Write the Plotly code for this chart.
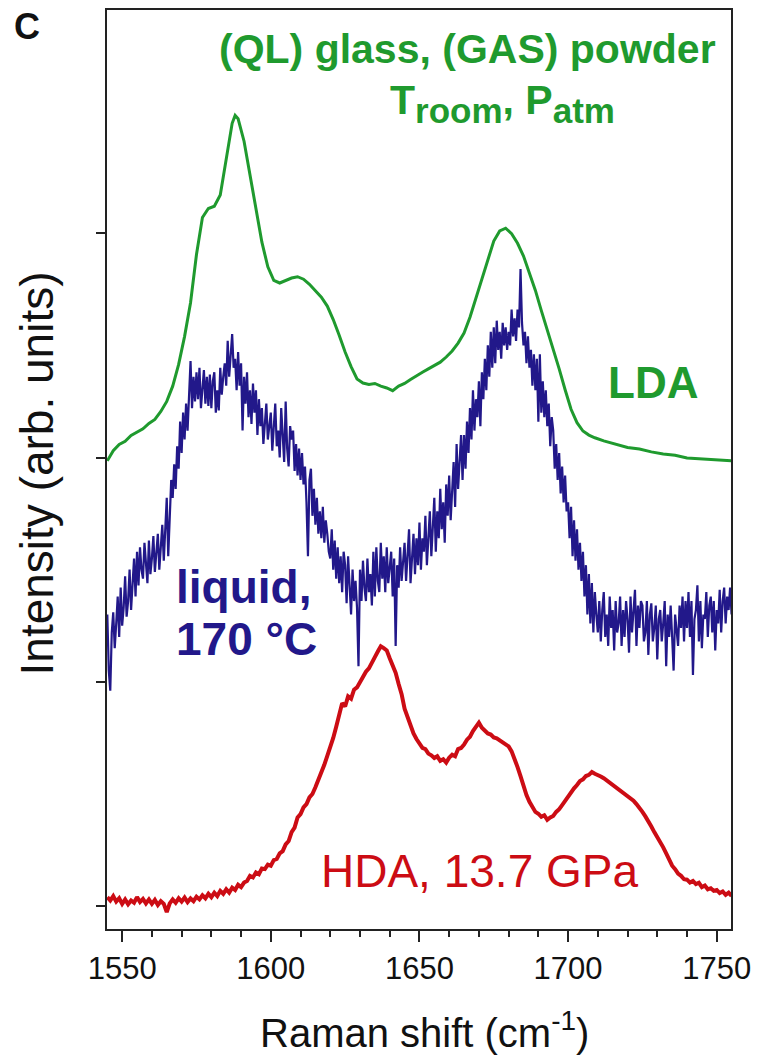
import numpy as np
import plotly.graph_objects as go

# ---------------- data ----------------
# LDA, room temperature / ambient pressure (offset trace, top)
lda_shift = [1545, 1547, 1549, 1551, 1553, 1555, 1557, 1559, 1561, 1563,
             1565, 1567, 1569, 1571, 1573, 1575, 1577, 1579, 1581, 1583,
             1585, 1587, 1588, 1589, 1591, 1593, 1595, 1597, 1599, 1601,
             1603, 1605, 1607, 1609, 1611, 1613, 1615, 1617, 1619, 1621,
             1623, 1625, 1627, 1629, 1631, 1633, 1635, 1637, 1639, 1641,
             1643, 1645, 1647, 1649, 1651, 1653, 1655, 1657, 1659, 1661,
             1663, 1665, 1667, 1669, 1671, 1673, 1675, 1677, 1679, 1681,
             1683, 1685, 1687, 1689, 1691, 1693, 1695, 1697, 1699, 1701,
             1703, 1705, 1707, 1709, 1712, 1716, 1720, 1724, 1728, 1732,
             1736, 1740, 1744, 1748, 1752, 1755]
lda_int = [1.985, 2.030, 2.058, 2.072, 2.098, 2.112, 2.128, 2.152, 2.170, 2.205,
           2.250, 2.318, 2.415, 2.540, 2.690, 2.905, 3.070, 3.110, 3.120, 3.170,
           3.330, 3.490, 3.525, 3.510, 3.410, 3.255, 3.100, 2.960, 2.850, 2.790,
           2.778, 2.790, 2.800, 2.806, 2.795, 2.772, 2.745, 2.715, 2.675, 2.615,
           2.545, 2.470, 2.405, 2.350, 2.332, 2.326, 2.330, 2.318, 2.310, 2.298,
           2.318, 2.330, 2.348, 2.365, 2.380, 2.395, 2.410, 2.425, 2.448, 2.475,
           2.510, 2.555, 2.625, 2.710, 2.800, 2.890, 2.965, 3.010, 3.022, 2.998,
           2.955, 2.898, 2.825, 2.745, 2.655, 2.570, 2.482, 2.395, 2.302, 2.215,
           2.155, 2.118, 2.100, 2.088, 2.074, 2.060, 2.045, 2.038, 2.025, 2.016,
           2.010, 1.998, 1.994, 1.990, 1.986, 1.985]

# liquid at 170 °C (offset trace, middle), one reading per 0.5 cm-1 from 1545
liq_start, liq_step = 1545, 0.5
liq_int = [1.30, 1.05, 0.96, 1.22, 1.31, 1.15, 1.26, 1.38, 1.20, 1.42,
           1.25, 1.33, 1.47, 1.29, 1.36, 1.50, 1.32, 1.44, 1.55, 1.38,
           1.58, 1.43, 1.60, 1.50, 1.46, 1.62, 1.52, 1.44, 1.63, 1.48,
           1.55, 1.65, 1.49, 1.58, 1.66, 1.50, 1.62, 1.70, 1.54, 1.66,
           1.82, 1.56, 1.74, 1.90, 1.82, 1.97, 1.86, 2.05, 1.95, 2.16,
           2.02, 2.20, 2.08, 2.24, 2.12, 2.30, 2.43, 2.22, 2.36, 2.25,
           2.38, 2.26, 2.40, 2.22, 2.33, 2.39, 2.24, 2.36, 2.23, 2.37,
           2.22, 2.34, 2.38, 2.20, 2.30, 2.21, 2.40, 2.28, 2.36, 2.42,
           2.32, 2.52, 2.36, 2.48, 2.55, 2.40, 2.44, 2.30, 2.47, 2.32,
           2.42, 2.12, 2.36, 2.24, 2.38, 2.18, 2.30, 2.15, 2.33, 2.20,
           2.30, 2.10, 2.26, 2.14, 2.22, 2.06, 2.18, 2.24, 2.08, 2.16,
           2.20, 2.03, 2.15, 2.24, 2.05, 2.12, 2.00, 2.22, 2.10, 1.98,
           2.25, 2.04, 1.96, 2.14, 2.08, 2.12, 1.94, 2.06, 1.92, 2.04,
           1.90, 2.02, 1.88, 1.96, 1.80, 1.56, 1.90, 1.95, 1.74, 1.86,
           1.70, 1.82, 1.66, 1.76, 1.64, 1.78, 1.62, 1.72, 1.66, 1.58,
           1.55, 1.68, 1.50, 1.63, 1.46, 1.60, 1.44, 1.56, 1.40, 1.58,
           1.52, 1.35, 1.56, 1.42, 1.30, 1.50, 1.36, 1.45, 1.33, 1.07,
           1.50, 1.36, 1.54, 1.42, 1.36, 1.55, 1.40, 1.48, 1.34, 1.58,
           1.38, 1.60, 1.45, 1.40, 1.62, 1.46, 1.56, 1.40, 1.60, 1.44,
           1.50, 1.58, 1.38, 1.55, 1.16, 1.52, 1.42, 1.60, 1.45, 1.56,
           1.62, 1.45, 1.55, 1.68, 1.44, 1.58, 1.66, 1.48, 1.64, 1.52,
           1.71, 1.50, 1.64, 1.58, 1.74, 1.52, 1.66, 1.76, 1.56, 1.70,
           1.82, 1.58, 1.76, 1.64, 1.86, 1.68, 1.80, 1.62, 1.88, 1.74,
           1.92, 1.72, 1.86, 1.98, 1.78, 2.06, 1.86, 1.98, 2.10, 1.90,
           2.10, 1.95, 2.16, 2.02, 2.22, 2.08, 2.30, 2.12, 2.26, 2.18,
           2.34, 2.14, 2.38, 2.26, 2.44, 2.30, 2.50, 2.36, 2.56, 2.40,
           2.58, 2.42, 2.61, 2.48, 2.56, 2.44, 2.60, 2.50, 2.58, 2.48,
           2.56, 2.50, 2.66, 2.54, 2.62, 2.52, 2.66, 2.58, 2.84, 2.60,
           2.50, 2.56, 2.42, 2.54, 2.40, 2.48, 2.32, 2.46, 2.30, 2.44,
           2.16, 2.46, 2.20, 2.34, 2.18, 2.30, 2.14, 2.24, 2.05, 2.18,
           2.12, 1.95, 2.06, 1.90, 2.02, 1.84, 1.96, 1.80, 1.92, 1.76,
           1.80, 1.64, 1.78, 1.56, 1.72, 1.54, 1.68, 1.50, 1.62, 1.45,
           1.58, 1.38, 1.52, 1.30, 1.48, 1.26, 1.44, 1.22, 1.40, 1.30,
           1.22, 1.36, 1.18, 1.32, 1.40, 1.20, 1.30, 1.16, 1.38, 1.24,
           1.32, 1.14, 1.36, 1.22, 1.26, 1.38, 1.16, 1.32, 1.20, 1.36,
           1.28, 1.13, 1.38, 1.22, 1.30, 1.41, 1.16, 1.34, 1.24, 1.36,
           1.34, 1.18, 1.22, 1.36, 1.12, 1.30, 1.35, 1.18, 1.24, 1.34,
           1.10, 1.28, 1.32, 1.18, 1.26, 1.36, 1.07, 1.30, 1.20, 1.34,
           1.20, 1.05, 1.30, 1.22, 1.16, 1.34, 1.24, 1.38, 1.18, 1.36,
           1.24, 1.40, 1.20, 1.36, 1.03, 1.28, 1.32, 1.43, 1.18, 1.36,
           1.15, 1.30, 1.28, 1.40, 1.20, 1.34, 1.38, 1.22, 1.36, 1.14,
           1.32, 1.26, 1.41, 1.22, 1.36, 1.42, 1.26, 1.38, 1.32, 1.42,
           1.30]
liq_shift = liq_start + liq_step * np.arange(len(liq_int))

# HDA at 13.7 GPa (bottom trace), one reading per cm-1 from 1545
hda_start = 1545
hda_int = [0.040, 0.025, 0.045, 0.020, 0.035, 0.010, 0.030, 0.008, 0.025, 0.015,
           0.040, 0.018, 0.032, 0.012, 0.030, 0.010, 0.028, 0.005, 0.022, 0.010,
           -0.027, 0.012, 0.030, 0.015, 0.035, 0.020, 0.038, 0.018, 0.034, 0.022,
           0.042, 0.030, 0.048, 0.035, 0.055, 0.040, 0.060, 0.045, 0.068, 0.055,
           0.075, 0.060, 0.082, 0.072, 0.095, 0.085, 0.105, 0.112, 0.135, 0.128,
           0.150, 0.142, 0.168, 0.165, 0.185, 0.180, 0.205, 0.210, 0.235, 0.245,
           0.275, 0.290, 0.330, 0.350, 0.395, 0.410, 0.440, 0.455, 0.485, 0.500,
           0.530, 0.560, 0.590, 0.630, 0.670, 0.705, 0.750, 0.800, 0.860, 0.905,
           0.890, 0.935, 0.925, 0.965, 0.975, 1.000, 1.020, 1.045, 1.060, 1.090,
           1.110, 1.135, 1.158, 1.150, 1.140, 1.105, 1.075, 1.040, 0.990, 0.945,
           0.880, 0.840, 0.800, 0.770, 0.745, 0.725, 0.705, 0.700, 0.680, 0.672,
           0.660, 0.668, 0.648, 0.655, 0.640, 0.662, 0.675, 0.668, 0.700, 0.705,
           0.720, 0.742, 0.755, 0.780, 0.800, 0.818, 0.795, 0.782, 0.770, 0.765,
           0.752, 0.748, 0.740, 0.728, 0.725, 0.712, 0.690, 0.660, 0.620, 0.580,
           0.535, 0.495, 0.465, 0.440, 0.420, 0.412, 0.398, 0.405, 0.385, 0.395,
           0.402, 0.420, 0.432, 0.450, 0.470, 0.490, 0.505, 0.525, 0.540, 0.558,
           0.565, 0.580, 0.585, 0.598, 0.590, 0.585, 0.578, 0.570, 0.560, 0.552,
           0.540, 0.530, 0.518, 0.512, 0.498, 0.490, 0.480, 0.470, 0.455, 0.440,
           0.420, 0.400, 0.380, 0.355, 0.330, 0.310, 0.285, 0.262, 0.235, 0.205,
           0.180, 0.165, 0.145, 0.135, 0.120, 0.118, 0.105, 0.112, 0.098, 0.104,
           0.085, 0.092, 0.075, 0.080, 0.068, 0.072, 0.058, 0.065, 0.050, 0.060,
           0.045]
hda_shift = np.arange(hda_start, hda_start + len(hda_int))

x_ticks = [1550, 1600, 1650, 1700, 1750]
y_ticks = [0, 1, 2, 3]

GREEN = "#1f9a2e"
NAVY = "#22188a"
RED = "#cc0c14"
FONT = "Liberation Sans, Arial, sans-serif"

fig = go.Figure()
fig.add_trace(go.Scatter(x=lda_shift, y=lda_int, mode="lines",
                         line=dict(color=GREEN, width=3)))
fig.add_trace(go.Scatter(x=liq_shift, y=liq_int, mode="lines",
                         line=dict(color=NAVY, width=2.2)))
fig.add_trace(go.Scatter(x=hda_shift, y=hda_int, mode="lines",
                         line=dict(color=RED, width=4)))

L, R, T, B = 107, 24, 8, 127
W, H = 759, 1056
pw, ph = W - L - R, H - T - B


def px(xpix):
    return (xpix - L) / pw


def py(ypix):
    return (H - B - ypix) / ph


def label(text, x, y, size, color, bold=False, xanchor="left", angle=0):
    fig.add_annotation(text=f"<b>{text}</b>" if bold else text,
                       x=px(x), y=py(y), xref="paper", yref="paper",
                       xanchor=xanchor, yanchor="middle", showarrow=False,
                       textangle=angle,
                       font=dict(family=FONT, size=size, color=color))


SUB = '<sub><span style="font-size:35px">{}</span></sub>'

label("C", 11, 25, 36, "#111111", bold=True)
label("(QL) glass, (GAS) powder", 470, 47, 41, GREEN, bold=True, xanchor="center")
label("T" + SUB.format("room") + ", P" + SUB.format("atm"), 505, 102, 41, GREEN,
      bold=True, xanchor="center")
label("LDA", 609, 381, 44, GREEN, bold=True)
label("liquid,", 174, 586, 46, NAVY, bold=True)
label("170 °C", 174, 638, 46, NAVY, bold=True)
label("HDA, 13.7 GPa", 320, 871, 46, RED)
label("Raman shift (cm<sup>-1</sup>)", 427, 1030, 40, "#111111", xanchor="center")
label("Intensity (arb. units)", 37, 472, 46, "#111111", xanchor="center", angle=-90)

axis_common = dict(showline=True, linecolor="#222222", linewidth=2, mirror=True,
                   showgrid=False, zeroline=False, ticks="outside",
                   tickcolor="#222222", tickwidth=2)

fig.update_xaxes(range=[1544.9, 1754.8], tickvals=x_ticks, ticklen=11,
                 tickfont=dict(family=FONT, size=31, color="#111111"),
                 minor=dict(dtick=10, tick0=1550, ticks="outside", ticklen=6,
                            tickwidth=2, tickcolor="#222222"),
                 **axis_common)
fig.update_yaxes(range=[-0.102, 3.995], tickvals=y_ticks, ticklen=9,
                 showticklabels=False, **axis_common)

fig.update_layout(width=W, height=H, margin=dict(l=L, r=R, t=T, b=B),
                  plot_bgcolor="white", paper_bgcolor="white",
                  showlegend=False)

fig.write_html("out.html")
